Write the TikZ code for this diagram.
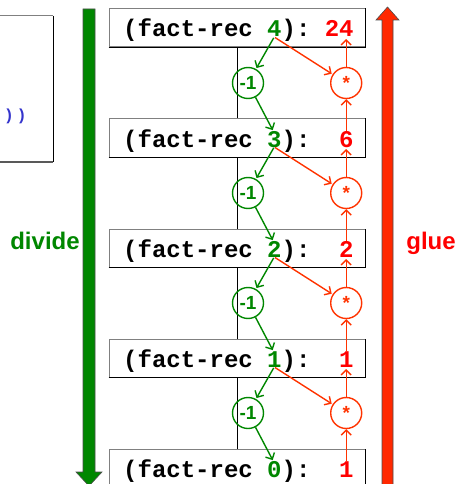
\documentclass[tikz,border=0pt]{standalone}
\usepackage{fontspec}
\setmainfont{Liberation Sans}
\newfontfamily\monof{Liberation Mono}
\usetikzlibrary{arrows.meta,calc}
\definecolor{dgreen}{RGB}{0,135,0}
\definecolor{ored}{RGB}{255,51,0}
\definecolor{codeblue}{RGB}{51,51,204}
\definecolor{bigred}{RGB}{255,40,0}
\begin{document}
\begin{tikzpicture}[x=1pt,y=-1pt,
  framebox/.style={draw=gray, line width=1pt, minimum width=256pt, minimum height=38pt, inner sep=0pt},
  mono/.style={font=\monof\bfseries\fontsize{24}{24}\selectfont, inner sep=0pt, anchor=base west},
  opnode/.style={circle, draw, line width=1.4pt, minimum size=31pt, inner sep=0pt, font=\bfseries\fontsize{19}{19}\selectfont},
  conn/.style={line width=1.4pt, -{Straight Barb[length=5pt,width=10pt,line width=1.4pt]}, shorten >=1pt},
  biglabel/.style={font=\bfseries\fontsize{24}{24}\selectfont, inner sep=0pt, anchor=base}
]
\useasboundingbox (0,0) rectangle (458,484);
% left code box (cut off)
\draw[gray, line width=1pt] (-3,16) -- (53,16);
\draw[black, line width=1pt] (53,16) -- (53,162);
\draw[gray!70!black, line width=1.2pt] (53,162) -- (-3,162);
\node[font=\monof\bfseries\fontsize{16}{16}\selectfont, text=codeblue, inner sep=0pt, anchor=base west] (code) at (4,121) {)\kern3pt)};
% big arrows
\filldraw[fill=dgreen, draw=black!70, line width=0.6pt] (83,9) -- (95,9) -- (95,472) -- (102,472) -- (89,486) -- (76,472) -- (83,472) -- cycle;
\filldraw[fill=bigred, draw=black!70, line width=0.6pt] (382,492) -- (382,20) -- (376,20) -- (387.5,7) -- (399,20) -- (393,20) -- (393,492) -- cycle;
\node[biglabel, text=dgreen] (divide) at (45,249) {divide};
\node[biglabel, text=red] (glue) at (431,249) {glue};
% boxes
\foreach \i/\n/\r [evaluate=\i as \yc using 28+110*(\i-1)] in {1/4/{~\textcolor{red}{24}}, 2/3/{~~\textcolor{red}{6}}, 3/2/{~~\textcolor{red}{2}}, 4/1/{~~\textcolor{red}{1}}, 5/0/{~~\textcolor{red}{1}}}
{
  \node[framebox] (b\i) at (237,\yc) {};
  \draw[black, line width=1pt] (b\i.south west) -- (b\i.south east) -- (b\i.north east);
  \node[mono] (t\i) at (123,\yc+9) {(fact-rec~\textcolor{dgreen}{\n}):\r};
  \coordinate (dbot\i) at ($(t\i.base west)+(151.2,0)$);
  \coordinate (dtop\i) at ($(t\i.base west)+(150.2,-16)$);
  \coordinate (rbot\i) at ($(t\i.base west)+(223.2,0)$);
  \coordinate (rtop\i) at ($(t\i.base west)+(223.2,-16)$);
}
\foreach \i/\j [evaluate=\i as \yc using 28+110*(\i-1)] in {1/2,2/3,3/4,4/5}
{
  \draw[black, line width=0.8pt] (b\i.south) -- (b\j.north);
  \node[opnode, draw=dgreen, text=dgreen] (m\i) at (248,\yc+55) {-1};
  \node[opnode, draw=ored, text=ored] (s\i) at (rbot\i |- 0,\yc+55) {*};
  \draw[conn, dgreen, shorten <=1pt] (dbot\i) -- (m\i);
  \draw[conn, dgreen] (m\i) -- (dtop\j);
  \draw[conn, ored, shorten <=1pt] (dbot\i) -- (s\i);
  \draw[conn, ored, shorten >=2pt] (s\i.north) -- (rbot\i);
  \draw[conn, ored, shorten >=0pt] (rtop\j) -- (s\i.south);
}
\end{tikzpicture}
\end{document}
